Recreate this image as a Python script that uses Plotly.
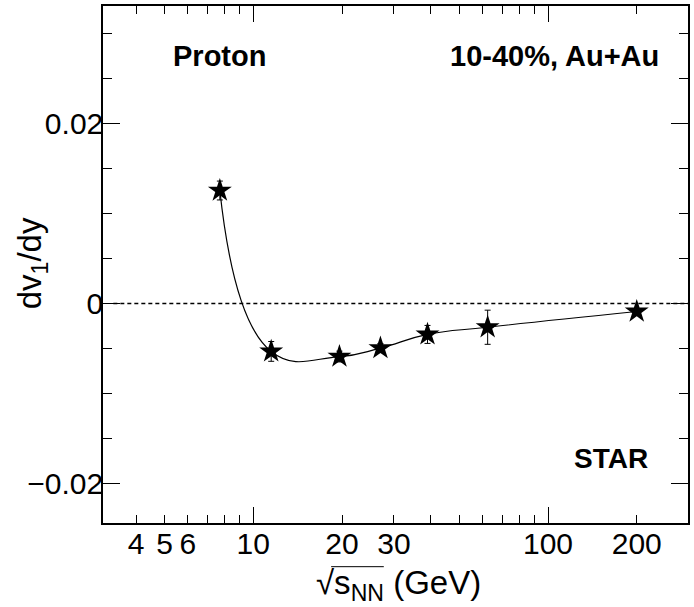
import plotly.graph_objects as go

# ---- data ----
energy = [7.7, 11.5, 19.6, 27, 39, 62.4, 200]            # sqrt(s_NN) in GeV
dv1dy = [0.01257, -0.00533, -0.0059, -0.00496, -0.00344, -0.00264, -0.00089]
dv1dy_err = [0.00105, 0.0011, 0.0006, 0.0005, 0.001, 0.0019, 0.0003]

x_label_vals = [4, 5, 6, 10, 20, 30, 100, 200]
x_label_text = ["4", "5", "6", "10", "20", "30", "100", "200"]
x_minor_vals = [7, 8, 9, 40, 50, 60, 70, 80, 90]
x_major_vals = [10, 100]
y_tick_vals = [-0.02, 0, 0.02]
y_tick_text = ["\u22120.02", "0", "0.02"]

zero_line_x = [3.35, 300]
zero_line_y = [0, 0]

x_range_log = [0.49, 2.475]
y_range = [-0.02442, 0.0331]

FONT = "Liberation Sans, Arial, Helvetica, sans-serif"

fig = go.Figure()

# dashed zero line
fig.add_trace(go.Scatter(
    x=zero_line_x, y=zero_line_y, mode="lines",
    line=dict(color="black", width=1.5, dash="4px,3px"),
    hoverinfo="skip", showlegend=False,
))

# smooth curve through the points
fig.add_trace(go.Scatter(
    x=energy, y=dv1dy, mode="lines",
    line=dict(color="black", width=1.2, shape="spline", smoothing=1.3),
    hoverinfo="skip", showlegend=False,
))

# data points with error bars
fig.add_trace(go.Scatter(
    x=energy, y=dv1dy, mode="markers",
    marker=dict(symbol="star", size=18, color="black", line=dict(width=0)),
    error_y=dict(type="data", array=dv1dy_err, visible=True,
                 color="black", thickness=1, width=3),
    showlegend=False,
))

# invisible trace for the overlay axis carrying the long decade ticks
fig.add_trace(go.Scatter(
    x=[10], y=[0], xaxis="x2", mode="markers",
    marker=dict(opacity=0), hoverinfo="skip", showlegend=False,
))

fig.update_layout(
    template="none",
    width=694, height=607,
    margin=dict(l=103, r=6, t=6, b=84, autoexpand=False),
    paper_bgcolor="white", plot_bgcolor="white",
    font=dict(family=FONT, size=28, color="black"),
    showlegend=False,
    xaxis=dict(
        type="log", range=x_range_log, automargin=False,
        tickmode="array", tickvals=x_label_vals, ticktext=x_label_text,
        ticks="inside", ticklen=8, tickwidth=1, tickcolor="black",
        ticklabelstandoff=-7,
        minor=dict(tickmode="array", tickvals=x_minor_vals, ticks="inside",
                   ticklen=8, tickwidth=1, tickcolor="black", showgrid=False),
        showline=True, linecolor="black", linewidth=1.5, mirror="ticks",
        showgrid=False, zeroline=False,
        tickfont=dict(family=FONT, size=30, color="black"),
    ),
    xaxis2=dict(
        type="log", range=x_range_log, overlaying="x", anchor="y", side="bottom",
        automargin=False,
        tickmode="array", tickvals=x_major_vals,
        ticks="inside", ticklen=16, tickwidth=1, tickcolor="black",
        showticklabels=False, showline=False, mirror="ticks",
        showgrid=False, zeroline=False,
    ),
    yaxis=dict(
        range=y_range, automargin=False,
        tickmode="array", tickvals=y_tick_vals, ticktext=y_tick_text,
        ticks="inside", ticklen=17, tickwidth=1, tickcolor="black",
        ticklabelstandoff=-8,
        minor=dict(dtick=0.005, tick0=0, ticks="inside", ticklen=9,
                   tickwidth=1, tickcolor="black", showgrid=False),
        showline=True, linecolor="black", linewidth=1.5, mirror="ticks",
        showgrid=False, zeroline=False,
        tickfont=dict(family=FONT, size=30, color="black"),
    ),
    annotations=[
        dict(text="<b>Proton</b>", xref="paper", yref="paper", x=0.1157, y=0.903,
             xanchor="left", yanchor="middle", showarrow=False,
             font=dict(family=FONT, size=29, color="black")),
        dict(text="<b>10-40%, Au+Au</b>", xref="paper", yref="paper", x=0.953, y=0.903,
             xanchor="right", yanchor="middle", showarrow=False,
             font=dict(family=FONT, size=29, color="black")),
        dict(text="<b>STAR</b>", xref="paper", yref="paper", x=0.935, y=0.125,
             xanchor="right", yanchor="middle", showarrow=False,
             font=dict(family=FONT, size=28, color="black")),
        dict(text="dv<sub>1</sub>/dy", xref="paper", yref="paper", x=-0.12, y=0.502,
             xanchor="center", yanchor="middle", textangle=-90, showarrow=False,
             font=dict(family=FONT, size=33, color="black")),
        dict(text="\u221as<sub>NN</sub> (GeV)",
             xref="paper", yref="paper", x=0.3607, y=-0.12,
             xanchor="left", yanchor="middle", showarrow=False,
             font=dict(family=FONT, size=33, color="black")),
    ],
    shapes=[
        dict(type="line", xref="paper", yref="paper",
             x0=0.390, x1=0.480, y0=-0.0845, y1=-0.0845,
             line=dict(color="black", width=1)),
    ],
)

fig.write_html("out.html", config={"displayModeBar": False},
               post_script="document.body.style.margin='0px';")
